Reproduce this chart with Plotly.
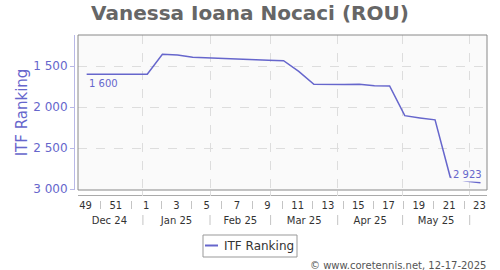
import datetime as dt
import plotly.graph_objects as go

# ---------------- data ----------------
week_years = [2024, 2024, 2024, 2024] + [2025] * 23
week_numbers = [49, 50, 51, 52] + list(range(1, 24))
itf_ranking = [1600, 1600, 1600, 1600, 1600,
               1356, 1365, 1394, 1403, 1411, 1418, 1425, 1431, 1436,
               1565, 1723, 1727, 1725, 1723, 1741, 1743,
               2105, 2133, 2157, 2854, 2903, 2923]
label_weeks = [(2024, 49), (2024, 51), (2025, 1), (2025, 3), (2025, 5), (2025, 7),
               (2025, 9), (2025, 11), (2025, 13), (2025, 15), (2025, 17), (2025, 19),
               (2025, 21), (2025, 23)]
sep_weeks = [(2024, 50), (2024, 52), (2025, 2), (2025, 4), (2025, 6), (2025, 8),
             (2025, 10), (2025, 12), (2025, 14), (2025, 16), (2025, 18), (2025, 20),
             (2025, 22)]
month_starts = [(2025, 1), (2025, 2), (2025, 3), (2025, 4), (2025, 5), (2025, 6)]
x_range = ["2024-12-02", "2025-06-09"]
y_range = [3012, 1122]
y_ticks = [1500, 2000, 2500, 3000]
title = "Vanessa Ioana Nocaci (ROU)"
series_name = "ITF Ranking"
credit = "© www.coretennis.net, 12-17-2025"

# ---------------- styling ----------------
W, H = 500, 270
ML, MR, MT, MB = 70, 13, 35, 40
PW, PH = W - ML - MR, H - MT - MB
LINE = "#6666cc"
FONT = "DejaVu Sans"

def px_x(p):  # paper x fraction for pixel column
    return (p - ML) / PW

def px_y(p):  # paper y fraction for pixel row
    return (H - MB - p) / PH

def pt_date(y, w):
    return dt.datetime.combine(dt.date.fromisocalendar(y, w, 5), dt.time())

def mid_date(y, w):
    return dt.datetime.combine(dt.date.fromisocalendar(y, w, 4), dt.time(12))

x_dates = [pt_date(y, w) for y, w in zip(week_years, week_numbers)]
month_dates = [dt.datetime(y, m, 1) for y, m in month_starts]

fig = go.Figure()
fig.add_trace(go.Scatter(x=x_dates, y=itf_ranking, mode="lines", name=series_name,
                         line=dict(color=LINE, width=1.5), showlegend=False))
# empty helper traces so that the label axes get drawn
for ax in ["x2", "x3", "x5"]:
    fig.add_trace(go.Scatter(x=[], y=[], xaxis=ax, yaxis="y", showlegend=False,
                             hoverinfo="skip"))

def fmt(v):
    return f"{v:,}".replace(",", " ")

fig.add_annotation(x=x_dates[0], y=itf_ranking[0], text=fmt(itf_ranking[0]),
                   xanchor="left", yanchor="top", yshift=-2, showarrow=False,
                   font=dict(family=FONT, size=10, color=LINE))
fig.add_annotation(x=x_dates[-1], y=itf_ranking[-1], text=fmt(itf_ranking[-1]),
                   xanchor="right", yanchor="bottom", xshift=3, yshift=1, showarrow=False,
                   bgcolor="#fafafa", borderpad=1,
                   font=dict(family=FONT, size=10, color=LINE))

dom_x = [px_x(78), 1]
dom_y = [px_y(190), 1]

common = dict(type="date", range=x_range, domain=dom_x)

fig.update_layout(
    width=W, height=H, margin=dict(l=ML, r=MR, t=MT, b=MB, autoexpand=False),
    paper_bgcolor="white", plot_bgcolor="#fafafa",
    separators=". ",
    font=dict(family=FONT, color="#333"),
    title=dict(text=title, x=0.5, xref="container", xanchor="center",
               y=1 - 13 / H, yanchor="middle",
               font=dict(family=FONT, size=20, color="#666", weight="bold")),
    xaxis=dict(**common, anchor="y", showgrid=True, gridcolor="#dddddd", griddash="dash",
               tickmode="array", tickvals=month_dates, ticks="outside", ticklen=5,
               tickcolor="#dddddd", showticklabels=False, showline=False, zeroline=False),
    xaxis2=dict(**common, overlaying="x", anchor="free", position=px_y(195),
                showline=True, linecolor="#aaaaaa", showgrid=False,
                ticks="outside", ticklen=1, tickcolor="rgba(0,0,0,0)",
                tickmode="array",
                tickvals=[mid_date(y, w) for y, w in label_weeks],
                ticktext=[str(w) for _, w in label_weeks],
                tickfont=dict(size=10, color="#333")),
    xaxis3=dict(**common, overlaying="x", anchor="free", position=px_y(200),
                showline=False, showgrid=False, ticks="outside", ticklen=8,
                tickcolor="#c4c4c4", tickmode="array",
                tickvals=[mid_date(y, w) for y, w in sep_weeks],
                showticklabels=False),
    xaxis5=dict(**common, overlaying="x", anchor="free", position=px_y(213),
                showline=False, showgrid=False, ticks="", dtick="M1",
                tick0="2024-12-01", ticklabelmode="period", tickformat="%b %y",
                tickfont=dict(size=10, color="#333")),
    yaxis=dict(range=y_range, domain=dom_y, anchor="free", position=px_x(74),
               tickmode="array", tickvals=y_ticks, tickformat=",d",
               showgrid=True, gridcolor="#dddddd", griddash="dash", zeroline=False,
               showline=True, linecolor="#b8b8e6", ticks="outside", ticklen=4,
               tickcolor="#b8b8e6",
               tickfont=dict(size=12, color=LINE),
               title=dict(text=series_name, font=dict(size=15, color=LINE), standoff=0)),
    showlegend=False,
)

# month separators in the month label row
for d in month_dates:
    fig.add_shape(type="line", xref="x", yref="paper", x0=d, x1=d,
                  y0=px_y(225), y1=px_y(215), line=dict(color="#c4c4c4", width=1))

fig.add_shape(type="rect", xref="x domain", yref="y domain", x0=0, x1=1, y0=0, y1=1,
              line=dict(color="#888888", width=1), layer="above")

# legend box (drawn to match the reference's compact legend)
fig.add_shape(type="rect", xref="paper", yref="paper",
              x0=px_x(203), x1=px_x(297), y0=px_y(257), y1=px_y(235),
              line=dict(color="#999999", width=1), fillcolor="white")
fig.add_shape(type="line", xref="paper", yref="paper",
              x0=px_x(205), x1=px_x(218), y0=px_y(245.5), y1=px_y(245.5),
              line=dict(color=LINE, width=2))
fig.add_annotation(text=series_name, xref="paper", yref="paper", x=px_x(222),
                   y=px_y(245.5), xanchor="left", yanchor="middle", showarrow=False,
                   font=dict(size=12, color="#333"))

fig.add_annotation(text=credit, xref="paper", yref="paper", x=px_x(488), y=px_y(265),
                   xanchor="right", yanchor="middle", showarrow=False,
                   font=dict(size=10, color="#555"))

fig.write_html("out.html")
